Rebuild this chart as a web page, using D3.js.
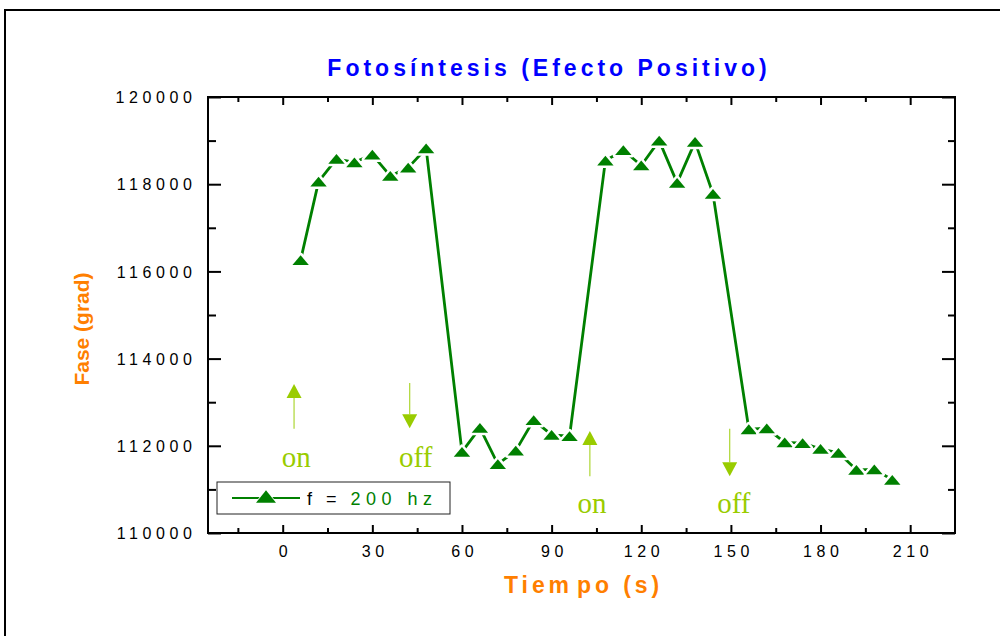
<!DOCTYPE html>
<html>
<head>
<meta charset="utf-8">
<script src="https://cdn.jsdelivr.net/npm/d3@7"></script>
<style>
  html, body { margin: 0; padding: 0; background: #fff; }
  svg { display: block; }
</style>
</head>
<body>
<svg id="chart" width="1000" height="636"></svg>
<script>
// Phase readings (grad) sampled every 6 s while the light is switched on/off
const times  = [6, 12, 18, 24, 30, 36, 42, 48, 60, 66, 72, 78, 84, 90, 96,
                108, 114, 120, 126, 132, 138, 144, 156, 162, 168, 174, 180, 186, 192, 198, 204];
const phases = [116260, 118060, 118580, 118500, 118680, 118190, 118380, 118820,
                111860, 112410, 111580, 111890, 112590, 112250, 112220,
                118540, 118780, 118430, 119000, 118030, 118970, 117780,
                112380, 112400, 112080, 112060, 111930, 111840, 111450, 111460, 111220];

const xMajorTicks = [0, 30, 60, 90, 120, 150, 180, 210];
const xMinorTicks = [-15, 15, 45, 75, 105, 135, 165, 195];
const yMajorTicks = [110000, 112000, 114000, 116000, 118000, 120000];
const yMinorTicks = [111000, 113000, 115000, 117000, 119000];

// Light switching annotations: arrow at time t from value `from` to value `to`
const switchTimes  = [3.8, 42.5, 102.8, 149.6];
const arrowFrom    = [112390, 113440, 111300, 112390];
const arrowTo      = [113420, 112400, 112340, 111300];
const switchLabels = ["on", "off", "on", "off"];
const labelTimes   = [4.5, 44.5, 103.5, 151];
const labelValues  = [111510, 111510, 110460, 110460];

const seriesName = "f = ";
const seriesFreq = "200 hz";

const svg = d3.select("#chart");
const W = 1000, H = 636;
const plot = { left: 208, right: 955, top: 97, bottom: 533 };

const x = d3.scaleLinear().domain([-25, 225]).range([plot.left, plot.right]);
const y = d3.scaleLinear().domain([110000, 120000]).range([plot.bottom, plot.top]);

const green = "#008000";
const orange = "#ff7f00";
const lime = "#99cc00";
const sansFont = "'Liberation Sans', Arial, Helvetica, sans-serif";
const serifFont = "'Liberation Serif', 'Times New Roman', serif";

// page frame
svg.append("rect")
  .attr("x", 5).attr("y", 10).attr("width", W + 20).attr("height", H + 20)
  .attr("fill", "none").attr("stroke", "#000").attr("stroke-width", 2);

// axes ----------------------------------------------------------------------
const tickSpacing = 4.6;
const tickFontSize = "16px";

function styleTicks(g) {
  g.select(".domain").remove();
  g.selectAll(".tick line").attr("stroke", "#000").attr("stroke-width", 2);
}

// bottom
svg.append("g").attr("transform", `translate(0,${plot.bottom})`)
  .call(d3.axisBottom(x).tickValues(xMajorTicks).tickSize(-8).tickPadding(0))
  .call(styleTicks)
  .call(g => g.selectAll(".tick text")
    .attr("y", 24).attr("dy", null).attr("dx", tickSpacing / 2)
    .attr("fill", "#000")
    .style("font-family", sansFont).style("font-size", tickFontSize)
    .style("letter-spacing", tickSpacing + "px"));
svg.append("g").attr("transform", `translate(0,${plot.bottom})`)
  .call(d3.axisBottom(x).tickValues(xMinorTicks).tickSize(-5).tickFormat(""))
  .call(styleTicks);

// top
svg.append("g").attr("transform", `translate(0,${plot.top})`)
  .call(d3.axisTop(x).tickValues(xMajorTicks).tickSize(-8).tickFormat(""))
  .call(styleTicks);
svg.append("g").attr("transform", `translate(0,${plot.top})`)
  .call(d3.axisTop(x).tickValues(xMinorTicks).tickSize(-5).tickFormat(""))
  .call(styleTicks);

// left
svg.append("g").attr("transform", `translate(${plot.left},0)`)
  .call(d3.axisLeft(y).tickValues(yMajorTicks).tickSize(-13).tickPadding(0).tickFormat(d3.format("d")))
  .call(styleTicks)
  .call(g => g.selectAll(".tick text")
    .attr("x", -16 + tickSpacing).attr("dy", "0.36em")
    .attr("fill", "#000")
    .style("font-family", sansFont).style("font-size", tickFontSize)
    .style("letter-spacing", tickSpacing + "px"));
svg.append("g").attr("transform", `translate(${plot.left},0)`)
  .call(d3.axisLeft(y).tickValues(yMinorTicks).tickSize(-8).tickFormat(""))
  .call(styleTicks);

// right
svg.append("g").attr("transform", `translate(${plot.right},0)`)
  .call(d3.axisRight(y).tickValues(yMajorTicks).tickSize(-13).tickFormat(""))
  .call(styleTicks);
svg.append("g").attr("transform", `translate(${plot.right},0)`)
  .call(d3.axisRight(y).tickValues(yMinorTicks).tickSize(-7).tickFormat(""))
  .call(styleTicks);

// plot frame
svg.append("rect")
  .attr("x", plot.left).attr("y", plot.top)
  .attr("width", plot.right - plot.left).attr("height", plot.bottom - plot.top)
  .attr("fill", "none").attr("stroke", "#000").attr("stroke-width", 2);

// titles --------------------------------------------------------------------
svg.append("text")
  .attr("x", 547 + 2).attr("y", 76).attr("text-anchor", "middle")
  .attr("fill", "#0000ff")
  .style("font-family", sansFont).style("font-size", "23px").style("font-weight", "bold")
  .style("letter-spacing", "4px")
  .text("Fotosíntesis (Efecto Positivo)");

const xTitle = svg.append("text")
  .attr("x", (plot.left + plot.right) / 2 + 2).attr("y", 593).attr("text-anchor", "middle")
  .attr("fill", orange)
  .style("font-family", sansFont).style("font-size", "23px").style("font-weight", "bold")
  .style("letter-spacing", "3.9px");
xTitle.append("tspan").text("Tiem");
xTitle.append("tspan").attr("dx", 4).text("po (s)");

svg.append("text")
  .attr("transform", `translate(89,${(plot.top + plot.bottom) / 2 + 14}) rotate(-90)`)
  .attr("text-anchor", "middle")
  .attr("fill", orange)
  .style("font-family", sansFont).style("font-size", "21px").style("font-weight", "bold")
  .text("Fase (grad)");

// on/off annotations ----------------------------------------------------------
const ann = svg.append("g");
switchTimes.forEach((t, i) => {
  const ax = x(t), y0 = y(arrowFrom[i]), y1 = y(arrowTo[i]);
  const dir = y1 < y0 ? -1 : 1;   // -1 = pointing up
  const headLen = 14, headHalf = 7.5;
  ann.append("line")
    .attr("x1", ax).attr("x2", ax)
    .attr("y1", y0).attr("y2", y1 - dir * headLen)
    .attr("stroke", lime).attr("stroke-width", 1.2).attr("stroke-opacity", 0.8);
  ann.append("path")
    .attr("d", `M${ax},${y1} L${ax - headHalf},${y1 - dir * headLen} L${ax + headHalf},${y1 - dir * headLen} Z`)
    .attr("fill", lime);
  ann.append("text")
    .attr("x", x(labelTimes[i])).attr("y", y(labelValues[i]))
    .attr("text-anchor", "middle").attr("fill", lime)
    .style("font-family", serifFont).style("font-size", "29px")
    .text(switchLabels[i]);
});

// series ----------------------------------------------------------------------
const pts = times.map((t, i) => [t, phases[i]]);

function triangle(cx, cy, hw = 8.2, hh = 4.9) {
  return `M${cx},${cy - hh} L${cx + hw},${cy + hh} L${cx - hw},${cy + hh} Z`;
}

svg.append("path")
  .attr("d", d3.line().x(d => x(d[0])).y(d => y(d[1]))(pts))
  .attr("fill", "none").attr("stroke", green).attr("stroke-width", 2.8)
  .attr("stroke-linejoin", "round");

svg.append("g").selectAll("path").data(pts).join("path")
  .attr("d", d => triangle(x(d[0]), y(d[1])))
  .attr("fill", green).attr("stroke", "#fff").attr("stroke-width", 5)
  .attr("stroke-linejoin", "round")
  .style("paint-order", "stroke");

// legend ----------------------------------------------------------------------
const lg = svg.append("g");
lg.append("rect")
  .attr("x", 217).attr("y", 482).attr("width", 233).attr("height", 32)
  .attr("fill", "#fff").attr("stroke", "#222").attr("stroke-width", 1);
lg.append("line")
  .attr("x1", 232).attr("x2", 300).attr("y1", 498).attr("y2", 498)
  .attr("stroke", green).attr("stroke-width", 2);
lg.append("path")
  .attr("d", triangle(266, 496.5, 10, 6.3))
  .attr("fill", green).attr("stroke", "#fff").attr("stroke-width", 1.5)
  .style("paint-order", "stroke");
const lt = lg.append("text")
  .attr("x", 307).attr("y", 505)
  .style("font-family", sansFont).style("font-size", "18px");
lt.append("tspan").attr("fill", "#000").style("letter-spacing", "4.5px").text(seriesName);
lt.append("tspan").attr("fill", green).style("letter-spacing", "5.5px").text(seriesFreq);
</script>
</body>
</html>
